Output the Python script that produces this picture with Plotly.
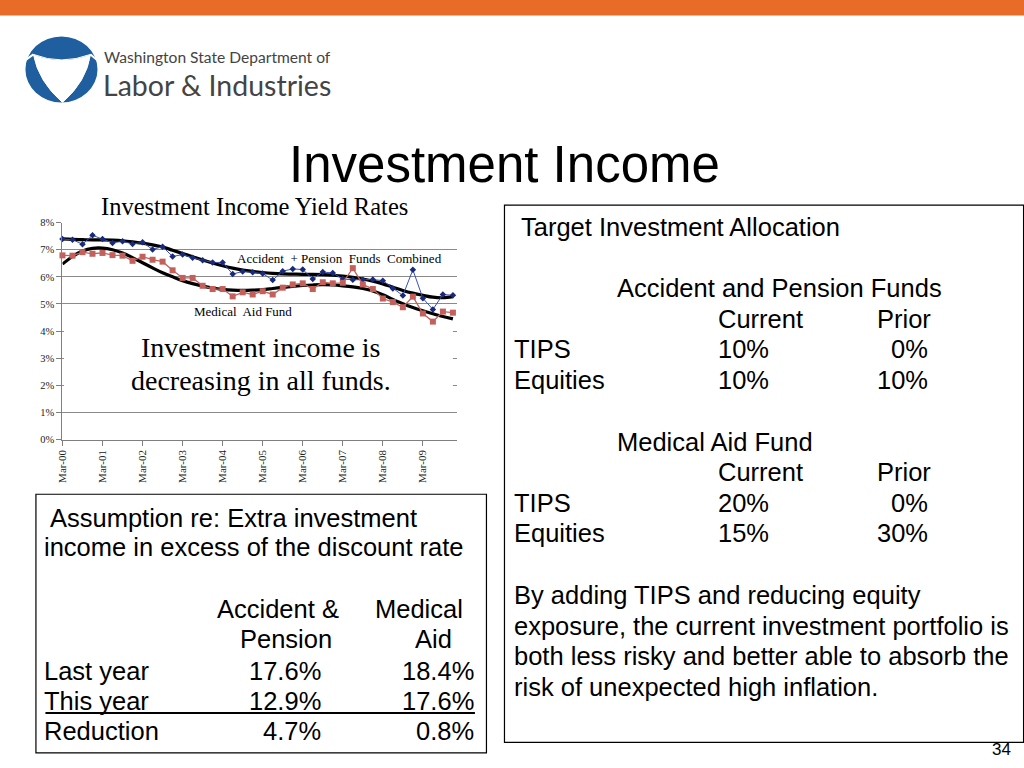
import plotly.graph_objects as go

W, H = 1024, 768
ARIAL = "Liberation Sans, Arial, sans-serif"
TIMES = "Liberation Serif, Times New Roman, serif"
LOGO_FONT = "Lato, Open Sans, sans-serif"

# the photographed page shows a small offset and slight shrink; compensate
OX, SX = 5.6, 0.993
OY, SY = 5.6, 0.985

def px(x):
    return ((x - OX) / SX) / W

def py(y):
    return 1 - ((y - OY) / SY) / H

# ---------------- data ----------------
quarters = [f"{m}-{y:02d}" for y in range(0, 10) for m in ("Mar", "Jun", "Sep", "Dec")]
tick_labels = ["Mar-00", "Mar-01", "Mar-02", "Mar-03", "Mar-04",
               "Mar-05", "Mar-06", "Mar-07", "Mar-08", "Mar-09"]
y_ticks = [0, 1, 2, 3, 4, 5, 6, 7, 8]

accident_pension = [7.39, 7.37, 7.20, 7.53, 7.39, 7.25, 7.31, 7.21, 7.27, 7.01,
                    7.11, 6.75, 6.82, 6.70, 6.61, 6.53, 6.53, 6.10, 6.20, 6.17,
                    6.12, 5.88, 6.21, 6.29, 6.27, 5.92, 6.18, 6.14, 5.92, 5.89,
                    5.89, 5.90, 5.86, 5.57, 5.31, 6.26, 5.21, 4.80, 5.35, 5.32]
medical_aid = [6.79, 6.78, 6.91, 6.85, 6.88, 6.80, 6.78, 6.59, 6.74, 6.63,
               6.56, 6.24, 5.96, 5.96, 5.67, 5.55, 5.55, 5.28, 5.43, 5.35,
               5.47, 5.35, 5.60, 5.72, 5.76, 5.55, 5.80, 5.76, 5.78, 6.32,
               5.72, 5.55, 5.20, 5.07, 4.88, 5.27, 4.65, 4.35, 4.72, 4.68]
accident_pension_trend = [7.40, 7.38, 7.37, 7.36, 7.36, 7.35, 7.33, 7.29, 7.24, 7.18,
                          7.10, 6.98, 6.86, 6.74, 6.62, 6.51, 6.41, 6.32, 6.25, 6.20,
                          6.16, 6.13, 6.11, 6.10, 6.09, 6.09, 6.08, 6.06, 6.03, 5.98,
                          5.92, 5.84, 5.74, 5.62, 5.50, 5.40, 5.32, 5.25, 5.23, 5.27]
medical_aid_trend = [6.47, 6.75, 6.95, 7.05, 7.06, 7.00, 6.88, 6.71, 6.52, 6.33,
                     6.15, 6.00, 5.86, 5.75, 5.66, 5.59, 5.54, 5.51, 5.50, 5.51,
                     5.53, 5.57, 5.61, 5.65, 5.68, 5.70, 5.71, 5.70, 5.67, 5.63,
                     5.57, 5.48, 5.34, 5.17, 5.01, 4.87, 4.75, 4.64, 4.54, 4.45]

# allocation tables
alloc_rows = ["TIPS", "Equities"]
ap_current = ["10%", "10%"]
ap_prior = ["0%", "10%"]
ma_current = ["20%", "15%"]
ma_prior = ["0%", "30%"]

# assumption table
assump_rows = ["Last year", "This year", "Reduction"]
assump_ap = ["17.6%", "12.9%", "4.7%"]
assump_ma = ["18.4%", "17.6%", "0.8%"]

# ---------------- figure ----------------
fig = go.Figure()

fig.add_trace(go.Scatter(x=quarters, y=accident_pension_trend, mode="lines",
                         line=dict(color="black", width=3.2, shape="spline"),
                         showlegend=False, hoverinfo="skip", cliponaxis=False))
fig.add_trace(go.Scatter(x=quarters, y=medical_aid_trend, mode="lines",
                         line=dict(color="black", width=3.2, shape="spline"),
                         showlegend=False, hoverinfo="skip", cliponaxis=False))
fig.add_trace(go.Scatter(x=quarters, y=accident_pension, mode="lines+markers",
                         line=dict(color="#3552B8", width=1),
                         marker=dict(symbol="diamond", size=5, color="#1B2A78"),
                         showlegend=False, cliponaxis=False))
fig.add_trace(go.Scatter(x=quarters, y=medical_aid, mode="lines+markers",
                         line=dict(color="#C4605C", width=1.3),
                         marker=dict(symbol="square", size=6, color="#C4605C"),
                         showlegend=False, cliponaxis=False))

shapes = []
annotations = []

def txt(x, y, s, size, family=ARIAL, anchor="left", color="#000000"):
    if anchor == "left":
        x -= 2
    annotations.append(dict(x=px(x), y=py(y), xref="paper", yref="paper", text=s,
                            showarrow=False, xanchor=anchor, yanchor="middle",
                            borderpad=0, font=dict(size=size, family=family, color=color)))

def rect(x0, y0, x1, y1, fill=None, line=None, lw=1, layer="above"):
    shapes.append(dict(type="rect", xref="paper", yref="paper",
                       x0=px(x0), x1=px(x1), y0=py(y0), y1=py(y1),
                       fillcolor=fill if fill else "rgba(0,0,0,0)",
                       line=dict(color=line if line else "rgba(0,0,0,0)", width=lw if line else 0),
                       layer=layer))

# orange top bar
rect(-20, -20, 1044, 16, fill="#E96B28")

# logo
shapes.append(dict(type="circle", xref="paper", yref="paper",
                   x0=px(25), x1=px(97), y0=py(37), y1=py(103),
                   fillcolor="#1F5F9F", line=dict(width=0)))
inner = (f"M {px(33)},{py(55)} Q {px(61)},{py(66)} {px(90)},{py(55)} "
         f"Q {px(86)},{py(82)} {px(62)},{py(103)} "
         f"Q {px(38)},{py(82)} {px(33)},{py(55)} Z")
shapes.append(dict(type="path", xref="paper", yref="paper", path=inner,
                   fillcolor="white", line=dict(color="white", width=1)))
for (xa, ya, xb, yb) in [(33, 55, 26, 60), (90, 55, 96, 60)]:
    shapes.append(dict(type="line", xref="paper", yref="paper",
                       x0=px(xa), y0=py(ya), x1=px(xb), y1=py(yb),
                       line=dict(color="white", width=2)))

txt(104, 58, "Washington State Department of", 15.6, LOGO_FONT, color="#444444")
txt(103, 86, "Labor &amp; Industries", 28.5, LOGO_FONT, color="#444444")

# main title
txt(504, 165, "Investment Income", 51, ARIAL, anchor="center")

# chart title and chart annotations
txt(254, 207, "Investment Income Yield Rates", 24.5, TIMES, anchor="center")
txt(339, 259, "Accident  + Pension  Funds  Combined", 13, TIMES, anchor="center")
txt(242, 312, "Medical  Aid Fund", 13, TIMES, anchor="center")

# white area hiding gridlines behind the comment
rect(63.5, 326, 452, 397, fill="white", layer="above")
txt(260, 348, "Investment income is", 28, TIMES, anchor="center")
txt(260, 381, "decreasing in all funds.", 28, TIMES, anchor="center")

# right box
FS = 25.5
rect(503.5, 205.5, 1022, 742.5, line="#000000", lw=1.2)
txt(521, 227, "Target Investment Allocation", FS, ARIAL)
txt(617, 288, "Accident and Pension Funds", FS, ARIAL)
txt(718, 319, "Current", FS, ARIAL)
txt(877, 319, "Prior", FS, ARIAL)
for i, r in enumerate(alloc_rows):
    yy = [349, 380][i]
    txt(514, yy, r, FS, ARIAL)
    txt(718, yy, ap_current[i], FS, ARIAL)
    txt(928, yy, ap_prior[i], FS, ARIAL, anchor="right")
txt(617, 442, "Medical Aid Fund", FS, ARIAL)
txt(718, 472, "Current", FS, ARIAL)
txt(877, 472, "Prior", FS, ARIAL)
for i, r in enumerate(alloc_rows):
    yy = [503, 533][i]
    txt(514, yy, r, FS, ARIAL)
    txt(718, yy, ma_current[i], FS, ARIAL)
    txt(928, yy, ma_prior[i], FS, ARIAL, anchor="right")
para = ["By adding TIPS and reducing equity",
        "exposure, the current investment portfolio is",
        "both less risky and better able to absorb the",
        "risk of unexpected high inflation."]
for i, line in enumerate(para):
    txt(514, [595, 626, 656, 687][i], line, FS, ARIAL)

txt(1010, 750, "34", 17, ARIAL, anchor="right")

# bottom-left box
rect(35.5, 494.5, 485.5, 753, line="#000000", lw=1.2)
txt(51, 518, "Assumption re: Extra investment", FS, ARIAL)
txt(45, 547, "income in excess of the discount rate", FS, ARIAL)
txt(277, 609, "Accident &amp;", FS, ARIAL, anchor="center")
txt(285, 639, "Pension", FS, ARIAL, anchor="center")
txt(418, 609, "Medical", FS, ARIAL, anchor="center")
txt(433, 639, "Aid", FS, ARIAL, anchor="center")
for i, r in enumerate(assump_rows):
    yy = [671, 701, 731][i]
    txt(45, yy, r, FS, ARIAL)
    txt(321, yy, assump_ap[i], FS, ARIAL, anchor="right")
    txt(474, yy, assump_ma[i], FS, ARIAL, anchor="right")
shapes.append(dict(type="line", xref="paper", yref="paper",
                   x0=px(45), x1=px(474), y0=py(713), y1=py(713),
                   line=dict(color="black", width=2)))

fig.update_layout(
    width=W, height=H,
    margin=dict(l=0, r=0, t=0, b=0, pad=0),
    paper_bgcolor="white", plot_bgcolor="white",
    shapes=shapes, annotations=annotations,
    showlegend=False,
    xaxis=dict(domain=[px(62), px(456)], type="category",
               categoryorder="array", categoryarray=quarters,
               range=[0, 39.4], tickmode="array", tickvals=tick_labels,
               ticktext=tick_labels, tickangle=-90,
               tickfont=dict(family=TIMES, size=11, color="#222222"),
               showgrid=False, zeroline=False, showline=True,
               linecolor="#808080", linewidth=1,
               ticks="outside", ticklen=5, tickcolor="#808080"),
    yaxis=dict(domain=[py(440), py(223)], range=[0, 8],
               tickmode="array", tickvals=y_ticks,
               ticktext=[f"{v}%" for v in y_ticks],
               tickfont=dict(family=TIMES, size=10.5, color="#222222"),
               showgrid=True, gridcolor="#8A8A8A", gridwidth=1,
               zeroline=False, showline=True, linecolor="#808080", linewidth=1,
               ticks="outside", ticklen=5, tickcolor="#808080"),
)

fig.write_html(
    "out.html",
    config={"displayModeBar": False},
    post_script=(
        "var st=document.createElement('style');"
        "st.innerHTML='html,body{margin:0;padding:0;overflow:hidden;}';"
        "document.head.appendChild(st);"
    ),
)
